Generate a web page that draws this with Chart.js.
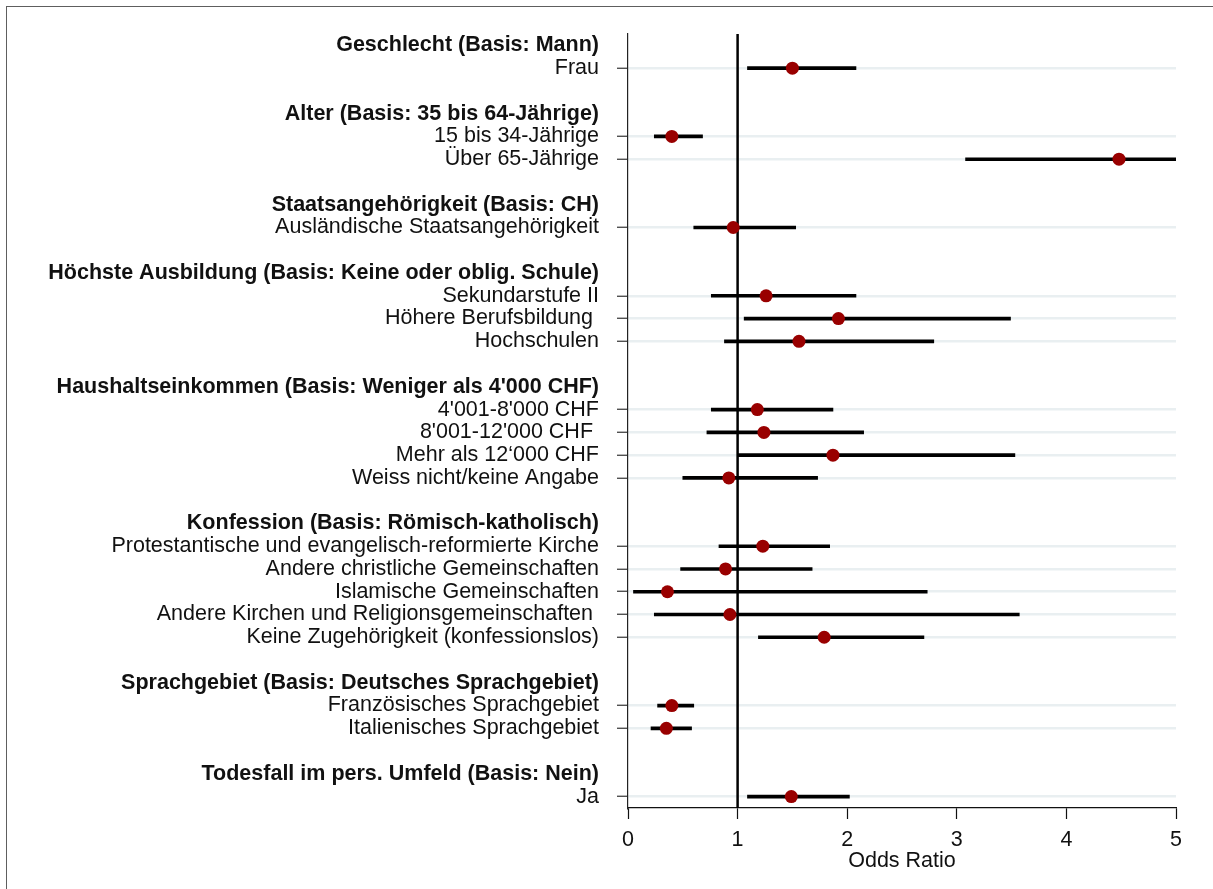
<!DOCTYPE html>
<html>
<head>
<meta charset="utf-8">
<script src="https://cdn.jsdelivr.net/npm/chart.js@4.4.1/dist/chart.umd.min.js"></script>
<style>
  html, body { margin: 0; padding: 0; background: #fff; }
  #wrap { position: relative; width: 1213px; height: 889px; }
  #frame {
    position: absolute; left: 6px; top: 6px; right: 0; bottom: 0;
    border-top: 1px solid #5e5e5e; border-left: 1px solid #5e5e5e;
    pointer-events: none;
  }
</style>
</head>
<body>
<div id="wrap">
  <canvas id="forest" width="1213" height="889"></canvas>
  <div id="frame"></div>
</div>
<script>
// one entry per row, top to bottom; '' = spacer row, null = no estimate (group header)
const rowLabels = [
  "Geschlecht (Basis: Mann)",
  "Frau",
  "",
  "Alter (Basis: 35 bis 64-Jährige)",
  "15 bis 34-Jährige",
  "Über 65-Jährige",
  "",
  "Staatsangehörigkeit (Basis: CH)",
  "Ausländische Staatsangehörigkeit",
  "",
  "Höchste Ausbildung (Basis: Keine oder oblig. Schule)",
  "Sekundarstufe II",
  "Höhere Berufsbildung ",
  "Hochschulen",
  "",
  "Haushaltseinkommen (Basis: Weniger als 4'000 CHF)",
  "4'001-8'000 CHF",
  "8'001-12'000 CHF ",
  "Mehr als 12‘000 CHF",
  "Weiss nicht/keine Angabe",
  "",
  "Konfession (Basis: Römisch-katholisch)",
  "Protestantische und evangelisch-reformierte Kirche",
  "Andere christliche Gemeinschaften",
  "Islamische Gemeinschaften",
  "Andere Kirchen und Religionsgemeinschaften ",
  "Keine Zugehörigkeit (konfessionslos)",
  "",
  "Sprachgebiet (Basis: Deutsches Sprachgebiet)",
  "Französisches Sprachgebiet",
  "Italienisches Sprachgebiet",
  "",
  "Todesfall im pers. Umfeld (Basis: Nein)",
  "Ja"
];

const oddsRatio = [
  null, 1.50, null,
  null, 0.40, 4.48, null,
  null, 0.96, null,
  null, 1.26, 1.92, 1.56, null,
  null, 1.18, 1.24, 1.87, 0.92, null,
  null, 1.23, 0.89, 0.36, 0.93, 1.79, null,
  null, 0.40, 0.35, null,
  null, 1.49
];

const ciLow = [
  null, 1.09, null,
  null, 0.24, 3.08, null,
  null, 0.60, null,
  null, 0.76, 1.06, 0.88, null,
  null, 0.76, 0.72, 1.00, 0.50, null,
  null, 0.83, 0.48, 0.05, 0.24, 1.19, null,
  null, 0.27, 0.21, null,
  null, 1.09
];

const ciHigh = [
  null, 2.08, null,
  null, 0.68, 6.50, null,
  null, 1.53, null,
  null, 2.08, 3.49, 2.79, null,
  null, 1.87, 2.15, 3.53, 1.73, null,
  null, 1.84, 1.68, 2.73, 3.57, 2.70, null,
  null, 0.60, 0.58, null,
  null, 2.02
];

const xTicks = [0, 1, 2, 3, 4, 5];
const refValue = 1;

const isHeader = (i) => rowLabels[i] !== "" && oddsRatio[i] === null;
const isData = (i) => oddsRatio[i] !== null;

const ciRanges = ciLow.map((lo, i) => (lo === null ? null : [lo, ciHigh[i]]));

const fontFamily = "'Liberation Sans', Arial, sans-serif";
const fontSize = 21.5;

// reference line at OR = 1, drawn above the grid but below the marks
const refLine = {
  id: "refLine",
  beforeDatasetsDraw(chart) {
    const { ctx, chartArea, scales } = chart;
    const x = scales.x.getPixelForValue(refValue);
    ctx.save();
    ctx.strokeStyle = "#000";
    ctx.lineWidth = 2.5;
    ctx.beginPath();
    ctx.moveTo(x, chartArea.top);
    ctx.lineTo(x, chartArea.bottom);
    ctx.stroke();
    ctx.restore();
  }
};

new Chart(document.getElementById("forest"), {
  type: "bar",
  data: {
    labels: rowLabels,
    datasets: [
      {
        type: "line",
        indexAxis: "y",
        data: oddsRatio,
        showLine: false,
        pointRadius: 6.5,
        pointHoverRadius: 6.5,
        pointBackgroundColor: "#990000",
        pointBorderWidth: 0,
        borderColor: "#990000",
        order: 1
      },
      {
        type: "bar",
        indexAxis: "y",
        data: ciRanges,
        backgroundColor: "#000",
        barThickness: 3,
        borderWidth: 0,
        order: 2
      }
    ]
  },
  plugins: [refLine],
  options: {
    indexAxis: "y",
    responsive: false,
    animation: false,
    devicePixelRatio: 1,
    layout: { padding: { top: 34, right: 37, bottom: 10, left: 0 } },
    plugins: { legend: { display: false }, tooltip: { enabled: false } },
    scales: {
      x: {
        type: "linear",
        min: 0,
        max: 5,
        afterBuildTicks: (scale) => {
          scale.ticks = xTicks.map((v) => ({ value: v }));
        },
        afterFit: (scale) => { scale.height = 71; },
        border: { display: true, color: "#111", width: 1.3 },
        grid: {
          drawOnChartArea: false,
          tickColor: "#111",
          tickWidth: 1.2,
          tickLength: 11
        },
        ticks: {
          color: "#111",
          padding: 8,
          maxRotation: 0,
          font: { family: fontFamily, size: fontSize }
        },
        title: {
          display: true,
          text: "Odds Ratio",
          color: "#111",
          font: { family: fontFamily, size: fontSize },
          padding: { top: 0, bottom: 5 }
        }
      },
      y: {
        type: "category",
        offset: true,
        afterFit: (scale) => { scale.width = 628; },
        border: { display: true, color: "#222", width: 1.2 },
        grid: {
          offset: false,
          drawOnChartArea: true,
          color: (ctx) => (isData(ctx.index) ? "#e9eff1" : "transparent"),
          lineWidth: 2.5,
          tickColor: (ctx) => (isData(ctx.index) ? "#333" : "transparent"),
          tickWidth: 1.2,
          tickLength: 11
        },
        ticks: {
          autoSkip: false,
          color: "#111",
          padding: 18,
          font: (ctx) => ({
            family: fontFamily,
            size: fontSize,
            weight: isHeader(ctx.index) ? "bold" : "normal"
          })
        }
      }
    }
  }
});
</script>
</body>
</html>
